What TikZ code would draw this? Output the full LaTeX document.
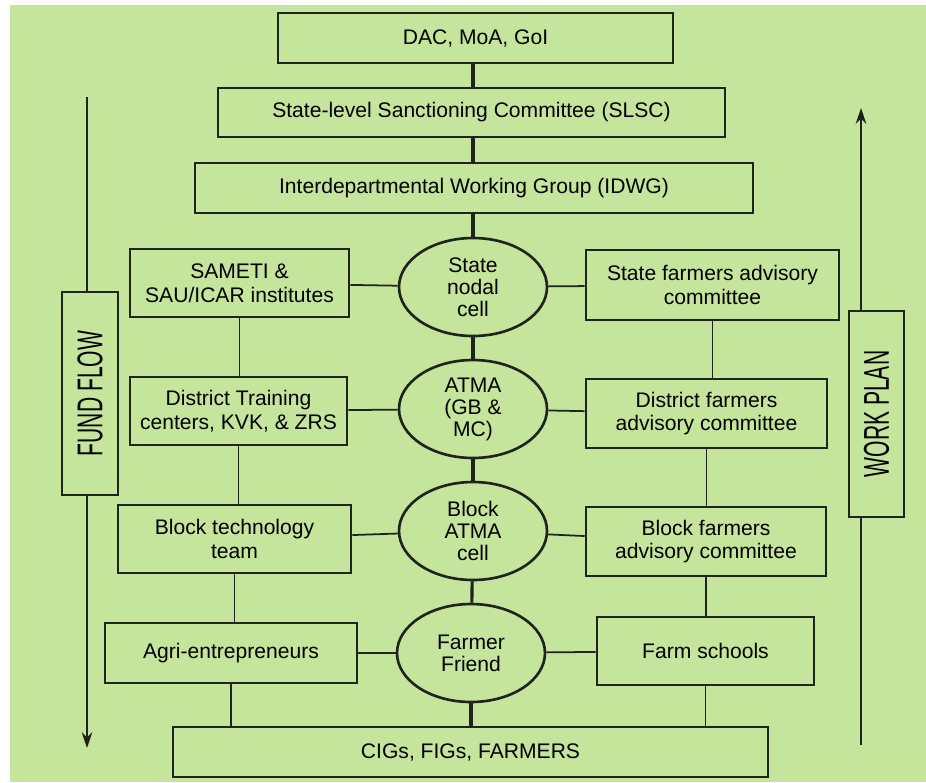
\documentclass[tikz,border=0pt]{standalone}
\usepackage{fontspec}
\setmainfont{Liberation Sans}
\usetikzlibrary{shapes.geometric,arrows.meta}
\definecolor{chartgreen}{RGB}{197,228,156}
\definecolor{inkline}{RGB}{30,36,28}

\begin{document}
\begin{tikzpicture}[x=0.02cm,y=-0.02cm,
  box/.style={draw=inkline,line width=1.5pt,fill=chartgreen,align=center,inner sep=2pt,font=\fontsize{12}{13.5}\selectfont},
  cell/.style={draw=inkline,line width=1.5pt,ellipse,fill=chartgreen,align=center,inner sep=0pt,minimum width=2.96cm,minimum height=1.96cm,font=\fontsize{12}{12.5}\selectfont},
  trunk/.style={draw=inkline,line width=1.8pt},
  link/.style={draw=inkline,line width=1pt},
  flow/.style={draw=inkline,line width=1.2pt}]
\useasboundingbox (0,0) rectangle (926,782);
\fill[chartgreen] (10,5) rectangle (926,782);

% top chain
\node[box,minimum width=7.9cm,minimum height=1.0cm] (dac) at (475.5,38) {DAC, MoA, GoI};
\node[box,minimum width=10.14cm,minimum height=0.98cm] (slsc) at (471.5,112.5) {State-level Sanctioning Committee (SLSC)};
\node[box,minimum width=11.16cm,minimum height=1.0cm] (idwg) at (474,188) {Interdepartmental Working Group (IDWG)};

% centre cells
\node[cell] (stcell) at (473,287) {State\\nodal\\cell};
\node[cell] (atma) at (473,409) {ATMA\\(GB \&\\MC)};
\node[cell] (bcell) at (473,531) {Block\\ATMA\\cell};
\node[cell] (ffriend) at (471,653) {Farmer\\Friend};

% left column
\node[box,minimum width=4.38cm,minimum height=1.36cm] (sameti) at (239.5,283) {SAMETI \&\\SAU/ICAR institutes};
\node[box,minimum width=4.34cm,minimum height=1.36cm] (dtc) at (238.5,411) {District Training\\centers, KVK, \& ZRS};
\node[box,minimum width=4.66cm,minimum height=1.36cm] (btt) at (234.5,539) {Block technology\\team};
\node[box,minimum width=5.04cm,minimum height=1.2cm] (agri) at (231,653) {Agri-entrepreneurs};

% right column
\node[box,minimum width=5.06cm,minimum height=1.4cm] (sfac) at (712.5,285) {State farmers advisory\\committee};
\node[box,minimum width=4.82cm,minimum height=1.38cm] (dfac) at (706.5,413.5) {District farmers\\advisory committee};
\node[box,minimum width=4.8cm,minimum height=1.38cm] (bfac) at (706,541.5) {Block farmers\\advisory committee};
\node[box,minimum width=4.34cm,minimum height=1.36cm] (fs) at (705.5,651) {Farm schools};

\node[box,minimum width=11.9cm,minimum height=1.0cm] (cig) at (470.5,752) {CIGs, FIGs, FARMERS};

% side flows
\node[box,rotate=90,minimum width=4.06cm,minimum height=1.12cm] (fund) at (90,393.5) {\scalebox{1}[1.7]{FUND FLOW}};
\node[box,rotate=90,minimum width=4.12cm,minimum height=1.1cm] (plan) at (876.5,414) {\scalebox{1}[1.7]{WORK PLAN}};
\coordinate (fund top) at (87,97);
\coordinate (fund end) at (87,748);
\coordinate (plan bot) at (861,745);
\coordinate (plan tip) at (861,108);

% trunk
\draw[trunk] (dac.south -| stcell) -- (slsc.north -| stcell);
\draw[trunk] (slsc.south -| stcell) -- (idwg.north -| stcell);
\draw[trunk] (idwg.south -| stcell) -- (stcell.north);
\draw[trunk] (stcell) -- (atma);
\draw[trunk] (atma) -- (bcell);
\draw[trunk] (bcell) -- (ffriend);
\draw[trunk] (ffriend.south) -- (ffriend.south |- cig.north);

% cross links
\draw[link] (sameti) -- (stcell);
\draw[link] (stcell) -- (sfac);
\draw[link] (dtc) -- (atma);
\draw[link] (atma) -- (dfac);
\draw[link] (btt) -- (bcell);
\draw[link] (bcell) -- (bfac);
\draw[link] (agri) -- (ffriend);
\draw[link] (ffriend) -- (fs);

% side chains
\draw[link] (sameti.south) -- (sameti.south |- dtc.north);
\draw[link] (dtc.south) -- (dtc.south |- btt.north);
\draw[link] (btt.south) -- (btt.south |- agri.north);
\draw[link] (agri.south) -- (agri.south |- cig.north);
\draw[link] (sfac.south) -- (sfac.south |- dfac.north);
\draw[link] (dfac.south) -- (dfac.south |- bfac.north);
\draw[link] (bfac.south) -- (bfac.south |- fs.north);
\draw[link] (fs.south) -- (fs.south |- cig.north);

% arrows
\draw[flow] (fund top) -- (fund top |- fund.east);
\draw[flow,-{Stealth[length=9pt,width=6pt]}] (fund top |- fund.west) -- (fund end);
\draw[flow] (plan bot) -- (plan bot |- plan.west);
\draw[flow,-{Stealth[length=9pt,width=6pt]}] (plan bot |- plan.east) -- (plan tip);
\end{tikzpicture}
\end{document}
